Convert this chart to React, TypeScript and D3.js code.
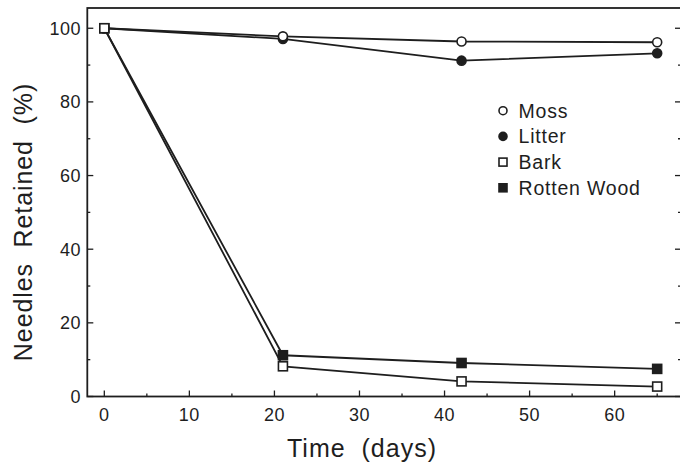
import React, { useEffect, useRef } from "react";
import * as d3 from "d3";

const days = [0, 21, 42, 65];
const moss = [100, 97.8, 96.4, 96.2];
const litter = [100, 97.1, 91.2, 93.2];
const bark = [100, 8.2, 4.1, 2.7];
const rottenWood = [100, 11.2, 9.1, 7.5];

const xTicks = [0, 10, 20, 30, 40, 50, 60];
const xMinorTicks = [5, 15, 25, 35, 45, 55, 65];
const yTicks = [0, 20, 40, 60, 80, 100];
const yMinorTicks = [10, 30, 50, 70, 90];

const seriesNames = ["Moss", "Litter", "Bark", "Rotten Wood"];

const ink = "#1e1e1e";
const font = "'Liberation Sans', Arial, Helvetica, sans-serif";

type Marker = "openCircle" | "filledCircle" | "openSquare" | "filledSquare";

const App = () => {
  const svgRef = useRef<SVGSVGElement | null>(null);

  useEffect(() => {
    const svg = d3.select(svgRef.current);
    svg.selectAll("*").remove();

    const left = 87.3,
      right = 681,
      top = 8,
      bottom = 396.5;

    const x = d3.scaleLinear().domain([-2, 67.8]).range([left, right]);
    const y = d3.scaleLinear().domain([0, 105.5]).range([bottom, top]);

    // frame
    svg
      .append("rect")
      .attr("x", left)
      .attr("y", top)
      .attr("width", right - left)
      .attr("height", bottom - top)
      .attr("fill", "none")
      .attr("stroke", ink)
      .attr("stroke-width", 1.8);

    // bottom ticks, pointing inward
    const g = svg.append("g").attr("stroke", ink).attr("stroke-width", 1.3);
    g.selectAll(".xmaj")
      .data(xTicks)
      .enter()
      .append("line")
      .attr("x1", (d) => x(d))
      .attr("x2", (d) => x(d))
      .attr("y1", bottom)
      .attr("y2", bottom - 6);
    g.selectAll(".xmin")
      .data(xMinorTicks)
      .enter()
      .append("line")
      .attr("x1", (d) => x(d))
      .attr("x2", (d) => x(d))
      .attr("y1", bottom)
      .attr("y2", bottom - 3);

    // left and right ticks
    [left, right].forEach((edge) => {
      const dir = edge === left ? 1 : -1;
      g.selectAll(null)
        .data(yTicks)
        .enter()
        .append("line")
        .attr("x1", edge)
        .attr("x2", edge + dir * 6)
        .attr("y1", (d) => y(d))
        .attr("y2", (d) => y(d));
      g.selectAll(null)
        .data(yMinorTicks)
        .enter()
        .append("line")
        .attr("x1", edge)
        .attr("x2", edge + dir * 3)
        .attr("y1", (d) => y(d))
        .attr("y2", (d) => y(d));
    });

    // tick labels
    svg
      .append("g")
      .selectAll("text")
      .data(xTicks)
      .enter()
      .append("text")
      .attr("x", (d) => x(d))
      .attr("y", 421)
      .attr("text-anchor", "middle")
      .attr("font-family", font)
      .attr("font-size", 18)
      .attr("letter-spacing", 0.5)
      .attr("fill", ink)
      .text((d) => d);

    svg
      .append("g")
      .selectAll("text")
      .data(yTicks)
      .enter()
      .append("text")
      .attr("x", 81)
      .attr("y", (d) => y(d) + 6.3)
      .attr("text-anchor", "end")
      .attr("font-family", font)
      .attr("font-size", 18)
      .attr("letter-spacing", 0.5)
      .attr("fill", ink)
      .text((d) => d);

    // axis titles
    svg
      .append("text")
      .attr("x", 362)
      .attr("y", 456.5)
      .attr("text-anchor", "middle")
      .attr("font-family", font)
      .attr("font-size", 25)
      .attr("letter-spacing", 1)
      .attr("fill", ink)
      .style("white-space", "pre")
      .text("Time  (days)");

    svg
      .append("text")
      .attr("transform", "translate(32,222) rotate(-90)")
      .attr("text-anchor", "middle")
      .attr("font-family", font)
      .attr("font-size", 25)
      .attr("letter-spacing", 0.9)
      .attr("fill", ink)
      .style("white-space", "pre")
      .text("Needles  Retained  (%)");

    const drawMarker = (
      sel: any,
      kind: Marker,
      cx: number,
      cy: number,
      size: number
    ) => {
      const filled = kind === "filledCircle" || kind === "filledSquare";
      if (kind === "openCircle" || kind === "filledCircle") {
        sel
          .append("circle")
          .attr("cx", cx)
          .attr("cy", cy)
          .attr("r", size / 2)
          .attr("fill", filled ? ink : "#fff")
          .attr("stroke", ink)
          .attr("stroke-width", 1.6);
      } else {
        sel
          .append("rect")
          .attr("x", cx - size / 2)
          .attr("y", cy - size / 2)
          .attr("width", size)
          .attr("height", size)
          .attr("fill", filled ? ink : "#fff")
          .attr("stroke", ink)
          .attr("stroke-width", 1.6);
      }
    };

    const series: { values: number[]; marker: Marker }[] = [
      { values: rottenWood, marker: "filledSquare" },
      { values: litter, marker: "filledCircle" },
      { values: moss, marker: "openCircle" },
      { values: bark, marker: "openSquare" },
    ];

    const line = d3
      .line<number>()
      .x((d, i) => x(days[i]))
      .y((d) => y(d));

    series.forEach((s) => {
      svg
        .append("path")
        .attr("d", line(s.values))
        .attr("fill", "none")
        .attr("stroke", ink)
        .attr("stroke-width", 1.8);
    });

    series.forEach((s) => {
      const mg = svg.append("g");
      s.values.forEach((v, i) => {
        drawMarker(mg, s.marker, x(days[i]), y(v), 9);
      });
    });

    // legend
    const legendMarkers: Marker[] = [
      "openCircle",
      "filledCircle",
      "openSquare",
      "filledSquare",
    ];
    const lg = svg.append("g");
    seriesNames.forEach((name, i) => {
      const cy = 110.7 + i * 25.7;
      drawMarker(lg, legendMarkers[i], 503, cy, 8);
      lg.append("text")
        .attr("x", 518.5)
        .attr("y", cy + 6.8)
        .attr("font-family", font)
        .attr("font-size", 19.5)
        .attr("letter-spacing", 0.8)
        .attr("fill", ink)
        .text(name);
    });
  }, []);

  return (
    <svg
      ref={svgRef}
      width={680}
      height={463}
      style={{ position: "absolute", left: 0, top: 0, background: "#fff" }}
    ></svg>
  );
};

export default App;
